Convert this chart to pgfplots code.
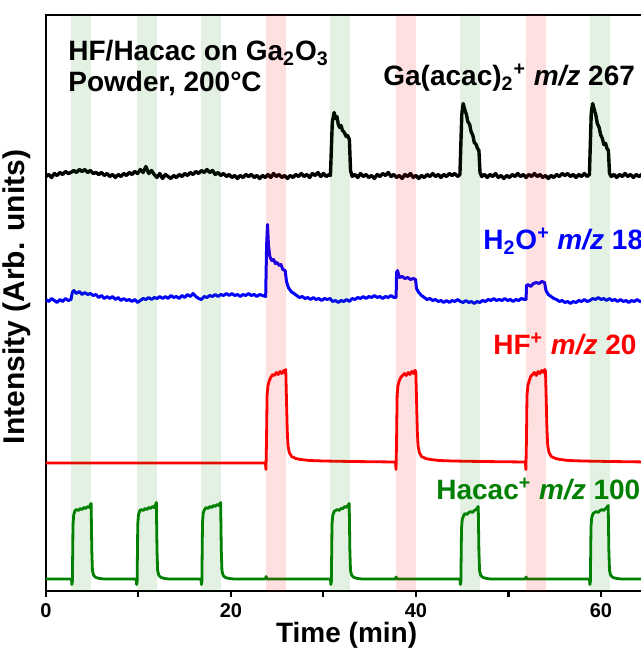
\documentclass[border=0pt]{standalone}
\usepackage{fontspec}
\setmainfont{Liberation Sans}
\usepackage{pgfplots}
\pgfplotsset{compat=1.18}
\definecolor{dgreen}{RGB}{0,128,0}
\begin{document}
\begin{tikzpicture}
\begin{axis}[name=ax, scale only axis, width=300.625pt, height=287.75pt,
 xmin=0, xmax=65, ymin=0, ymax=575.5,
 axis line style={line width=1pt},
 xtick={0,10,...,60}, xticklabels={0,,20,,40,,60}, ytick=\empty,
 xtick pos=bottom, tick align=outside, major tick length=3pt,
 tick style={line width=1pt, black},
 /pgf/number format/assume math mode=true,
 xticklabel style={font=\bfseries\fontsize{10}{12}\selectfont},
 xlabel={Time (min)}, ylabel={Intensity (Arb. units)},
 xlabel style={at={(axis description cs:0.5,0)}, anchor=base, yshift=-25.75pt, font=\bfseries\fontsize{14}{17}\selectfont},
 ylabel style={at={(axis description cs:-0.013,0.51)}, anchor=south, font=\bfseries\fontsize{15}{18}\selectfont},
 every axis plot/.append style={line width=1.4pt, line join=round},
]
% Ga(acac)2+ m/z 267
\addplot[black, line width=1.7pt] coordinates {(0,414)(0.3,416)(0.6,413)(0.9,417)(1.2,415)(1.5,418)(1.8,416)(2.1,419)(2.4,417)(2.7,418)(3.0,420)(3.3,418)(3.6,421)(3.9,419)(4.2,421)(4.5,418)(4.8,420)(5.1,417)(5.4,418)(5.7,416)(6.0,418)(6.3,415)(6.6,417)(6.9,414)(7.2,416)(7.5,413)(7.8,416)(8.1,414)(8.4,417)(8.7,415)(9.0,418)(9.3,416)(9.6,419)(9.9,417)(10.2,421)(10.5,418)(10.8,424)(11.1,417)(11.4,420)(11.7,416)(12.0,413)(12.3,417)(12.6,412)(12.9,416)(13.2,414)(13.5,412)(13.8,415)(14.1,413)(14.4,416)(14.7,414)(15.0,417)(15.3,415)(15.6,418)(15.9,416)(16.2,419)(16.5,417)(16.8,420)(17.1,418)(17.4,421)(17.7,418)(18.0,420)(18.3,416)(18.6,418)(18.9,415)(19.2,417)(19.5,414)(19.8,416)(20.1,413)(20.4,415)(20.7,412)(21.0,415)(21.3,413)(21.6,416)(21.9,414)(22.2,416)(22.5,413)(22.8,415)(23.1,412)(23.4,415)(23.7,413)(24.0,416)(24.3,413)(24.6,417)(24.9,414)(25.2,416)(25.5,413)(25.8,415)(26.1,412)(26.4,415)(26.7,413)(27.0,416)(27.3,414)(27.6,417)(27.9,414)(28.2,416)(28.5,413)(28.8,417)(29.1,415)(29.4,418)(29.7,414)(30.0,417)(30.3,414)(30.6,416)(30.75,415)(30.95,468)(31.15,478)(31.3,472)(31.45,474)(31.6,466)(31.75,463)(31.9,465)(32.05,460)(32.25,458)(32.45,454)(32.6,455)(32.8,451)(32.92,420)(33.1,414)(33.4,416)(33.7,413)(34.0,417)(34.3,414)(34.6,416)(34.9,413)(35.2,415)(35.5,412)(35.8,416)(36.1,414)(36.4,417)(36.7,415)(37.0,418)(37.3,414)(37.6,416)(37.9,413)(38.2,415)(38.5,412)(38.8,416)(39.1,414)(39.4,417)(39.7,413)(40.0,415)(40.3,412)(40.6,415)(40.9,413)(41.2,416)(41.5,414)(41.8,417)(42.1,414)(42.4,416)(42.7,413)(43.0,416)(43.3,414)(43.6,417)(43.9,415)(44.2,417)(44.5,414)(44.75,416)(44.95,476)(45.1,487)(45.3,480)(45.45,476)(45.6,469)(45.8,466)(45.95,459)(46.15,455)(46.3,448)(46.5,446)(46.65,442)(46.8,440)(46.92,418)(47.1,414)(47.4,416)(47.7,413)(48.0,416)(48.3,414)(48.6,417)(48.9,413)(49.2,415)(49.5,412)(49.8,415)(50.1,413)(50.4,416)(50.7,414)(51.0,417)(51.3,414)(51.6,416)(51.9,413)(52.2,416)(52.5,414)(52.8,417)(53.1,414)(53.4,416)(53.7,413)(54.0,415)(54.3,412)(54.6,415)(54.9,413)(55.2,416)(55.5,414)(55.8,417)(56.1,415)(56.4,417)(56.7,414)(57.0,416)(57.3,413)(57.6,416)(57.9,414)(58.2,417)(58.5,414)(58.75,416)(58.95,478)(59.1,487)(59.3,480)(59.45,475)(59.6,467)(59.8,463)(59.95,456)(60.15,452)(60.3,446)(60.5,447)(60.65,442)(60.8,440)(60.92,417)(61.1,414)(61.4,416)(61.7,413)(62.0,416)(62.3,414)(62.6,417)(62.9,414)(63.2,416)(63.5,413)(63.8,416)(64.1,414)(64.4,416)(64.7,414)(65,415)};
% H2O+ m/z 18
\addplot[blue, line width=1.5pt] coordinates {(0,291)(0.3,289)(0.6,292)(0.9,290)(1.2,288)(1.5,291)(1.8,289)(2.1,292)(2.4,290)(2.7,291)(2.85,298)(3.0,300)(3.3,297)(3.6,299)(3.9,296)(4.2,298)(4.5,296)(4.8,297)(5.1,295)(5.4,296)(5.7,293)(6.0,295)(6.3,292)(6.6,294)(6.9,292)(7.2,294)(7.5,291)(7.8,293)(8.1,290)(8.4,292)(8.7,290)(9.0,291)(9.3,289)(9.6,291)(9.9,288)(10.2,290)(10.5,292)(10.8,291)(11.1,293)(11.4,291)(11.7,293)(12.0,292)(12.3,294)(12.6,292)(12.9,294)(13.2,292)(13.5,295)(13.8,293)(14.1,294)(14.4,292)(14.7,295)(15.0,293)(15.3,296)(15.6,294)(15.9,297)(16.2,294)(16.5,292)(16.8,291)(17.1,294)(17.4,293)(17.7,295)(18.0,294)(18.3,296)(18.6,294)(18.9,296)(19.2,295)(19.5,297)(19.8,295)(20.1,297)(20.4,295)(20.7,296)(21.0,294)(21.3,296)(21.6,295)(21.9,297)(22.2,295)(22.5,296)(22.8,294)(23.1,296)(23.4,295)(23.75,294)(23.85,345)(23.95,366)(24.05,345)(24.2,334)(24.4,330)(24.6,331)(24.8,327)(25.0,328)(25.2,325)(25.4,326)(25.6,321)(25.85,320)(26.0,309)(26.2,303)(26.5,299)(26.8,297)(27.1,295)(27.4,293)(27.7,294)(28.0,292)(28.3,293)(28.6,291)(28.9,293)(29.2,291)(29.5,292)(29.8,290)(30.1,292)(30.4,291)(30.7,292)(31.0,289)(31.3,290)(31.6,288)(31.9,290)(32.2,289)(32.5,291)(32.8,289)(33.1,292)(33.4,291)(33.7,293)(34.0,292)(34.3,294)(34.6,292)(34.9,294)(35.2,293)(35.5,295)(35.8,293)(36.1,294)(36.4,292)(36.7,294)(37.0,293)(37.3,295)(37.6,293)(37.85,293)(37.9,318)(38.0,320)(38.2,313)(38.5,314)(38.8,312)(39.1,313)(39.4,311)(39.7,312)(39.95,311)(40.05,302)(40.3,298)(40.6,295)(40.9,293)(41.2,291)(41.5,292)(41.8,290)(42.1,291)(42.4,289)(42.7,290)(43.0,288)(43.3,290)(43.6,288)(43.9,290)(44.2,289)(44.5,291)(44.8,289)(45.1,288)(45.4,290)(45.7,288)(46.0,289)(46.3,287)(46.6,289)(46.9,288)(47.2,290)(47.5,289)(47.8,291)(48.1,290)(48.4,292)(48.7,290)(49.0,291)(49.3,290)(49.6,292)(49.9,290)(50.2,291)(50.5,289)(50.8,291)(51.1,290)(51.4,292)(51.7,291)(51.9,291)(51.95,305)(52.1,306)(52.4,304)(52.7,307)(53.0,308)(53.3,307)(53.6,309)(53.9,308)(54.05,300)(54.3,296)(54.6,294)(54.9,292)(55.2,291)(55.5,289)(55.8,290)(56.1,288)(56.4,289)(56.7,287)(57.0,289)(57.3,288)(57.6,290)(57.9,289)(58.2,291)(58.5,289)(58.8,290)(59.1,292)(59.4,291)(59.7,293)(60.0,291)(60.3,292)(60.6,290)(60.9,292)(61.2,290)(61.5,291)(61.8,289)(62.1,291)(62.4,289)(62.7,290)(63.0,288)(63.3,290)(63.6,289)(63.9,291)(64.2,289)(64.5,290)(65,290)};
% HF+ m/z 20
\addplot[red] coordinates {(0,127.5)(23.72,127.5)(23.78,121)(23.84,150)(23.9,195)(24.0,205)(24.15,210)(24.3,213)(24.5,216)(24.7,215)(24.9,218)(25.1,216)(25.3,219)(25.5,217)(25.7,220)(25.82,218)(25.92,221)(26.0,190)(26.08,160)(26.16,145)(26.3,138)(26.55,134)(27.0,132)(27.5,131)(28.5,130)(30,129.5)(33,129)(37.78,128.5)(37.84,121)(37.9,150)(37.96,195)(38.05,205)(38.2,210)(38.35,213)(38.55,215)(38.75,217)(38.95,215)(39.15,218)(39.35,216)(39.55,219)(39.75,217)(39.88,220)(39.98,219)(40.06,190)(40.14,160)(40.22,145)(40.36,138)(40.6,134)(41.05,132)(41.55,131)(42.5,130)(44,129.5)(47,129)(51.82,128.5)(51.88,121)(51.94,150)(52.0,195)(52.1,205)(52.25,210)(52.4,214)(52.6,216)(52.8,218)(53.0,215)(53.2,219)(53.4,217)(53.6,220)(53.8,218)(53.92,221)(54.0,219)(54.08,190)(54.16,160)(54.24,145)(54.38,138)(54.62,134)(55.1,132)(55.6,131)(56.5,130)(58,129.5)(61,129)(65,128.5)};
% Hacac+ m/z 100
\addplot[dgreen] coordinates {(0,11.5)(2.75,11.5)(2.8,6)(2.85,9)(2.92,66)(3.0,76)(3.15,80)(3.3,81)(3.5,80)(3.7,82)(3.9,81)(4.1,83)(4.3,82)(4.5,84)(4.7,83)(4.8,86)(4.88,87)(4.95,40)(5.02,20)(5.15,15)(5.4,13)(5.8,12)(6.3,11.5)(9.75,11.5)(9.8,6)(9.85,9)(9.92,66)(10.0,76)(10.15,80)(10.3,81)(10.5,80)(10.7,82)(10.9,81)(11.1,83)(11.3,82)(11.5,84)(11.7,83)(11.85,86)(11.93,88)(12.0,40)(12.07,20)(12.2,15)(12.45,13)(12.85,12)(13.3,11.5)(16.75,11.5)(16.8,6)(16.85,9)(16.92,68)(17.0,78)(17.15,81)(17.3,83)(17.5,82)(17.7,84)(17.9,83)(18.1,85)(18.3,84)(18.5,86)(18.7,85)(18.8,87)(18.88,88)(18.95,40)(19.02,20)(19.15,15)(19.4,13)(19.8,12)(20.3,11.5)(23.7,11.5)(23.8,14)(23.9,11.5)(30.75,11.5)(30.8,6)(30.85,9)(30.92,66)(31.0,75)(31.15,79)(31.3,80)(31.5,81)(31.7,80)(31.9,82)(32.1,82)(32.3,84)(32.5,83)(32.7,86)(32.78,87)(32.85,40)(32.92,20)(33.05,15)(33.3,13)(33.7,12)(34.2,11.5)(37.75,11.5)(37.85,13.5)(37.95,11.5)(44.75,11.5)(44.8,6)(44.85,9)(44.92,62)(45.0,71)(45.15,75)(45.3,77)(45.5,76)(45.7,78)(45.9,79)(46.1,78)(46.3,80)(46.5,81)(46.65,83)(46.73,84)(46.8,40)(46.87,20)(47.0,15)(47.25,13)(47.65,12)(48.1,11.5)(51.8,11.5)(51.9,13.5)(52.0,11.5)(58.75,11.5)(58.8,6)(58.85,9)(58.92,64)(59.0,73)(59.15,77)(59.3,78)(59.5,79)(59.7,78)(59.9,80)(60.1,81)(60.3,80)(60.5,82)(60.7,84)(60.78,85)(60.85,40)(60.92,20)(61.05,15)(61.3,13)(61.7,12)(62.2,11.5)(65,11.5)};
% dosing bands
\addplot[draw=none, fill=dgreen, fill opacity=0.11] coordinates {(2.75,0)(2.75,575.5)(4.85,575.5)(4.85,0)} --cycle;
\addplot[draw=none, fill=dgreen, fill opacity=0.11] coordinates {(9.8,0)(9.8,575.5)(11.95,575.5)(11.95,0)} --cycle;
\addplot[draw=none, fill=dgreen, fill opacity=0.11] coordinates {(16.8,0)(16.8,575.5)(18.9,575.5)(18.9,0)} --cycle;
\addplot[draw=none, fill=dgreen, fill opacity=0.11] coordinates {(30.75,0)(30.75,575.5)(32.9,575.5)(32.9,0)} --cycle;
\addplot[draw=none, fill=dgreen, fill opacity=0.11] coordinates {(44.8,0)(44.8,575.5)(46.9,575.5)(46.9,0)} --cycle;
\addplot[draw=none, fill=dgreen, fill opacity=0.11] coordinates {(58.8,0)(58.8,575.5)(60.95,575.5)(60.95,0)} --cycle;
\addplot[draw=none, fill=red, fill opacity=0.12] coordinates {(23.8,0)(23.8,575.5)(25.9,575.5)(25.9,0)} --cycle;
\addplot[draw=none, fill=red, fill opacity=0.12] coordinates {(37.85,0)(37.85,575.5)(40.0,575.5)(40.0,0)} --cycle;
\addplot[draw=none, fill=red, fill opacity=0.12] coordinates {(51.9,0)(51.9,575.5)(54.05,575.5)(54.05,0)} --cycle;
% labels
\node[anchor=base west, inner sep=0pt, font=\bfseries\fontsize{14}{17}\selectfont] at (axis cs:2.38,529.5) {HF/Hacac on Ga\textsubscript{2}O\textsubscript{3}};
\node[anchor=base west, inner sep=0pt, font=\bfseries\fontsize{14}{17}\selectfont] at (axis cs:2.38,498.5) {Powder, 200°C};
\node[anchor=base west, inner sep=0pt, font=\bfseries\fontsize{14}{17}\selectfont] at (axis cs:36.43,504.5) {Ga(acac)\textsubscript{2}\textsuperscript{+} \textit{m/z} 267};
\node[anchor=base west, inner sep=0pt, text=blue, font=\bfseries\fontsize{14}{17}\selectfont] at (axis cs:47.24,340.5) {H\textsubscript{2}O\textsuperscript{+} \textit{m/z} 18};
\node[anchor=base west, inner sep=0pt, text=red, font=\bfseries\fontsize{14}{17}\selectfont] at (axis cs:48.32,235.5) {HF\textsuperscript{+} \textit{m/z} 20};
\node[anchor=base west, inner sep=0pt, text=dgreen, font=\bfseries\fontsize{14}{17}\selectfont] at (axis cs:42.16,90.5) {Hacac\textsuperscript{+} \textit{m/z} 100};
\end{axis}
\pgfresetboundingbox
\path ([xshift=-23pt,yshift=-31.25pt]ax.south west) rectangle ([xshift=297.5pt,yshift=7.5pt]ax.north west);
\end{tikzpicture}
\end{document}
